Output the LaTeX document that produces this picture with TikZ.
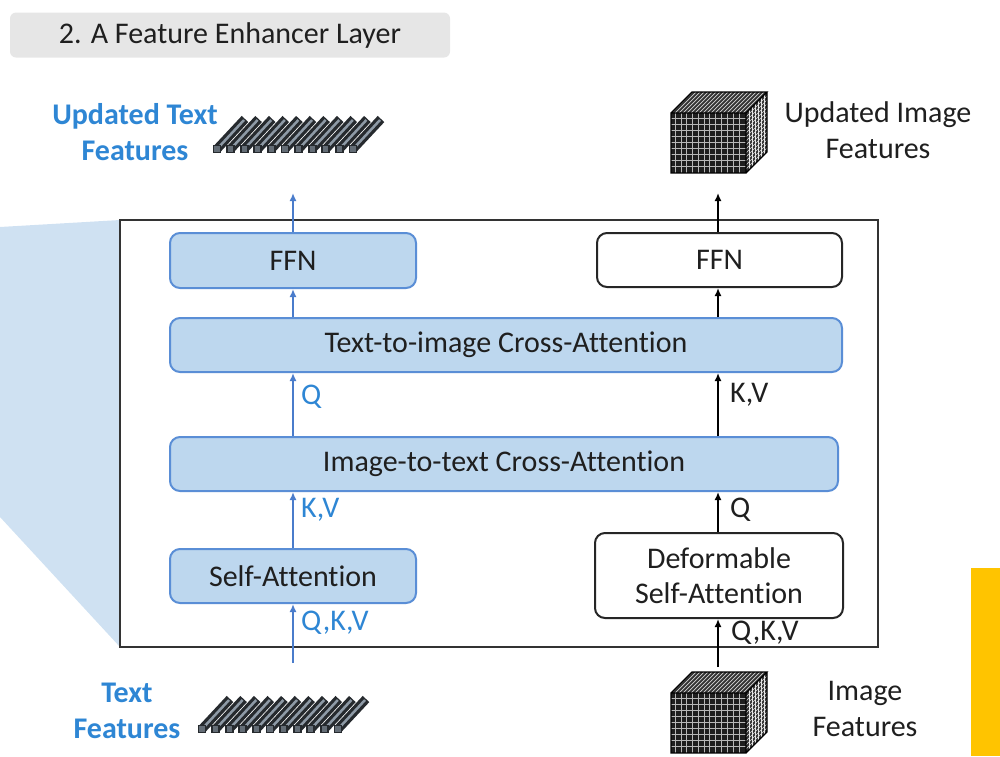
\documentclass[tikz,border=0pt]{standalone}
\usepackage{fontspec}
\setmainfont[Ligatures=NoCommon]{Carlito}
\usetikzlibrary{arrows.meta}

\definecolor{boxblue}{HTML}{BDD7EE}
\definecolor{edgeblue}{HTML}{5A8ED6}
\definecolor{arrowblue}{HTML}{4A7CCB}
\definecolor{labelblue}{HTML}{2E86D4}
\definecolor{wedgeblue}{HTML}{CFE1F2}
\definecolor{titlegray}{HTML}{E6E6E6}
\definecolor{amber}{HTML}{FFC400}
\definecolor{bardark}{HTML}{262A2E}
\definecolor{barlight}{HTML}{8E9AA6}
\definecolor{cubeface}{HTML}{1E1E1E}
\definecolor{cubeside}{HTML}{333333}
\definecolor{cubeline}{HTML}{B8B8B8}

\newcommand\bodyfont{\fontsize{30}{35.5}\selectfont}

\tikzset{
  bluebox/.style={draw=edgeblue, fill=boxblue, line width=2, rounded corners=10,
    inner sep=0, font=\bodyfont, text=black!88},
  whitebox/.style={draw=black!85, fill=white, line width=2, rounded corners=10,
    inner sep=0, font=\bodyfont, text=black!88, align=center},
  barrow/.style={draw=arrowblue, line width=2, -{Latex[length=8,width=7]}},
  karrow/.style={draw=black, line width=2, -{Latex[length=8,width=7]}},
  bluelabel/.style={anchor=west, inner sep=0, font=\bodyfont, text=labelblue},
  blacklabel/.style={anchor=west, inner sep=0, font=\bodyfont, text=black!88},
  % a row of token vectors, drawn as slanted bars
  tokens/.pic={
    \foreach \i in {0,...,10}{
      \draw[bardark, line width=9] (13.6*\i,0) -- ++(28,-30);
      \draw[barlight, line width=2.5] (13.6*\i+1,-1) -- ++(26,-28);
      \draw[draw=bardark, fill=barlight!60!bardark, line width=1.8]
        (13.6*\i-3.5,-3.5) rectangle ++(7,7);
    }
  },
  % a feature volume, drawn as a gridded cube
  featurecube/.pic={
    \fill[cubeside] (0,0) -- (21,-21) -- (96,-21) -- (75,0) -- cycle;
    \fill[cubeside] (75,0) -- (96,-21) -- (96,39) -- (75,60) -- cycle;
    \foreach \k in {0,4,...,75}{
      \draw[cubeline!60, line width=0.7] (\k,0) -- ++(21,-21);
    }
    \foreach \k in {3,6,...,21}{
      \draw[cubeline!35, line width=0.5] (75+\k,-\k) -- ++(0,60);
    }
    \foreach \k in {4,8,...,56}{
      \draw[cubeline!45, line width=0.6] (75,\k) -- ++(21,-21);
    }
    \fill[cubeface] (0,0) rectangle (75,60);
    \foreach \k in {4,10,15,21,27,33,38,44,50,56,62,68}{
      \draw[cubeline, line width=1] (\k,0) -- (\k,60);
    }
    \foreach \k in {5,11,17,23,29,35,41,47,53}{
      \draw[cubeline, line width=1] (0,\k) -- (75,\k);
    }
    \draw[black, line width=1.2] (0,0) rectangle (75,60)
      (0,0) -- (21,-21) -- (96,-21) -- (75,0)
      (96,-21) -- (96,39) -- (75,60);
  }
}

\begin{document}
\begin{tikzpicture}[x=1pt, y=-1pt]
  \useasboundingbox (0,0) rectangle (1000,756);

  % title tab
  \node[fill=titlegray, rounded corners=6, minimum width=440, minimum height=45,
        inner sep=0, font=\fontsize{30}{35}\selectfont, text=black!88]
        (title) at (230,35) {2. A Feature Enhancer Layer};

  % zoom wedge behind the layer frame
  \fill[wedgeblue] (0,227) -- (120,220) -- (120,647) -- (0,517) -- cycle;

  % layer frame
  \node[draw=black!80, line width=2.5, fill=white, minimum width=758,
        minimum height=427, inner sep=0] (frame) at (499,433.5) {};

  % text branch
  \node[bluebox, minimum width=246, minimum height=55] (ffnl) at (293,260.5) {FFN};
  \node[bluebox, minimum width=672, minimum height=54] (t2i) at (506,345) {Text-to-image Cross-Attention};
  \node[bluebox, minimum width=668, minimum height=54] (i2t) at (504,464) {Image-to-text Cross-Attention};
  \node[bluebox, minimum width=246, minimum height=54] (sa) at (293,576) {Self-Attention};

  % image branch
  \node[whitebox, minimum width=245, minimum height=54] (ffnr) at (719.5,260) {FFN};
  \node[whitebox, minimum width=248, minimum height=85] (dsa) at (719,575.5) {Deformable\\Self-Attention};

  % feature icons
  \pic at (217,149) {tokens};
  \pic at (202,729) {tokens};
  \pic at (671,113) {featurecube};
  \pic at (671,693) {featurecube};

  \coordinate (txtin) at (293,663);
  \coordinate (txtout) at (293,193);
  \coordinate (imgin) at (718,667);
  \coordinate (imgout) at (718,193);

  % text-side flow
  \draw[barrow] (txtin) -- (txtin |- sa.south);
  \draw[barrow] (sa.north) -- (sa.north |- i2t.south);
  \draw[barrow] (sa.north |- i2t.north) -- (sa.north |- t2i.south);
  \draw[barrow] (ffnl.south |- t2i.north) -- (ffnl.south);
  \draw[barrow] (ffnl.north) -- (txtout);

  % image-side flow
  \draw[karrow] (imgin) -- (imgin |- dsa.south);
  \draw[karrow] (imgin |- dsa.north) -- (imgin |- i2t.south);
  \draw[karrow] (imgin |- i2t.north) -- (imgin |- t2i.south);
  \draw[karrow] (imgin |- t2i.north) -- (imgin |- ffnr.south);
  \draw[karrow] (imgin |- ffnr.north) -- (imgout);

  % arrow labels
  \node[bluelabel] (lqkv) at (301,623) {Q,K,V};
  \node[bluelabel] (lkv) at (301,510) {K,V};
  \node[bluelabel] (lq) at (301,397) {Q};
  \node[blacklabel] (rqkv) at (731,633) {Q,K,V};
  \node[blacklabel] (rq) at (730,510) {Q};
  \node[blacklabel] (rkv) at (730,395) {K,V};

  % feature captions
  \node[align=center, inner sep=0, font=\bodyfont\bfseries, text=labelblue]
        (uptext) at (135,132) {Updated Text\\Features};
  \node[align=center, inner sep=0, font=\bodyfont\bfseries, text=labelblue]
        (intext) at (127,711) {Text\\Features};
  \node[align=center, inner sep=0, font=\bodyfont, text=black!88]
        (upimg) at (878,130) {Updated Image\\Features};
  \node[align=center, inner sep=0, font=\bodyfont, text=black!88]
        (inimg) at (865,709) {Image\\Features};

  % accent bar
  \fill[amber] (971,568) rectangle (1000,756);
\end{tikzpicture}
\end{document}
